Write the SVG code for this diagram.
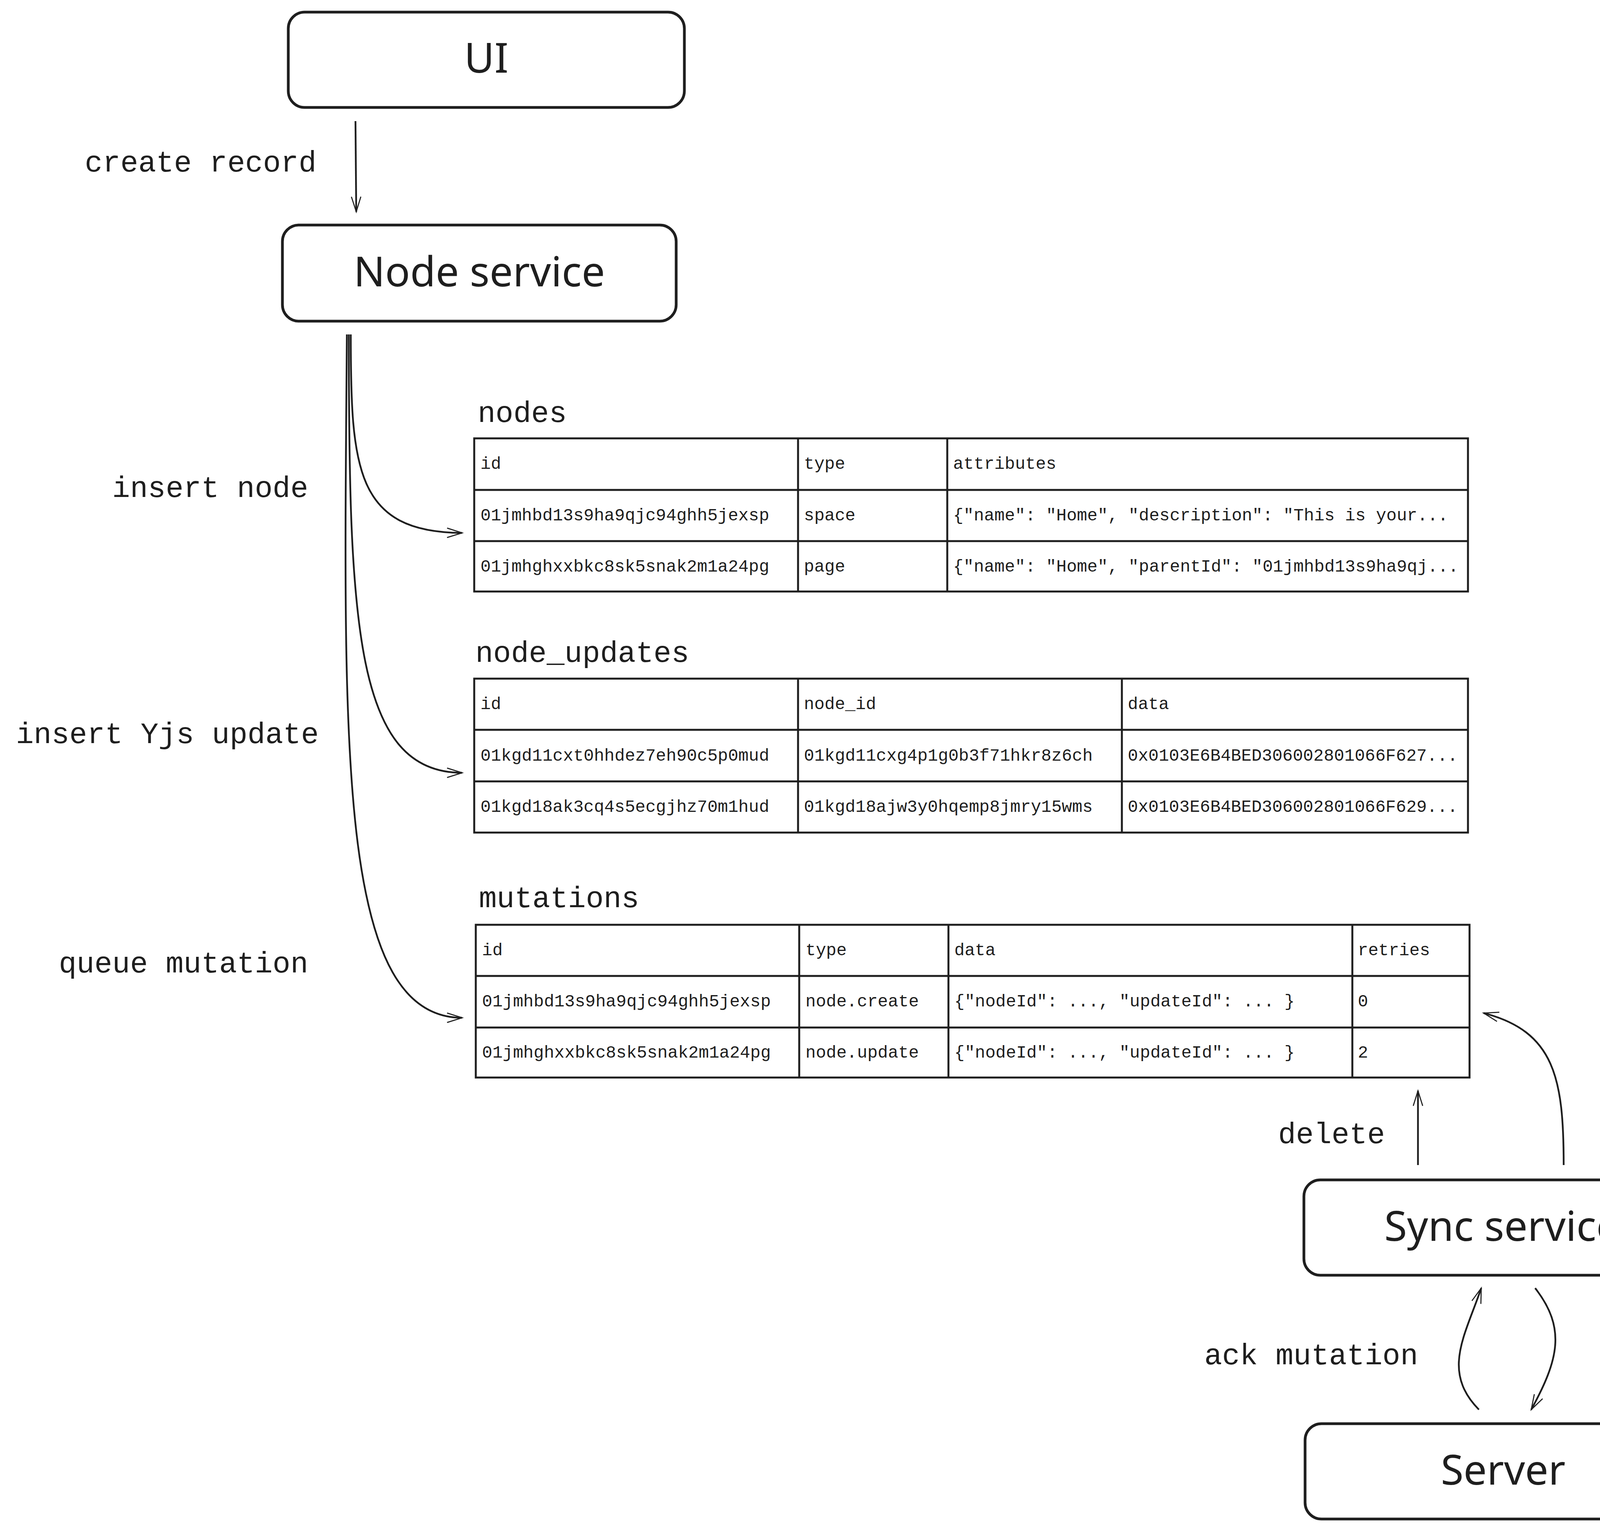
<svg xmlns="http://www.w3.org/2000/svg" width="4783" height="3911" viewBox="0 0 4783 3911" preserveAspectRatio="xMidYMid meet">
<style>
.box{fill:#fff;stroke:#1e1e1e;stroke-width:7}
.bt{font-family:"Noto Sans",sans-serif;font-size:106px;fill:#1e1e1e;text-anchor:middle}
.lbl{font-family:"Liberation Mono",monospace;font-size:76px;fill:#1e1e1e}
.ttl{font-family:"Liberation Mono",monospace;font-size:76px;fill:#1e1e1e}
.cell{font-family:"Liberation Mono",monospace;font-size:44px;fill:#1e1e1e}
.tbl{fill:none;stroke:#1e1e1e;stroke-width:5}
.con{fill:none;stroke:#1e1e1e;stroke-width:4.5;marker-end:url(#ah)}
</style>
<defs>
<marker id="ah" markerUnits="userSpaceOnUse" markerWidth="80" markerHeight="80" viewBox="-40 -40 80 80" refX="0" refY="0" orient="auto">
<path d="M-70 -22 L0 0 L-70 22" fill="none" stroke="#1e1e1e" stroke-width="5" transform="scale(0.55)"/>
</marker>
</defs>
<rect width="4783" height="3911" fill="#fff"/>
<g id="ui"><rect class="box" x="738" y="31" width="1014" height="244" rx="42"/><text class="bt" x="1245" y="186">UI</text></g>
<g id="node-service"><rect class="box" x="723" y="576" width="1008" height="246" rx="42"/><text class="bt" x="1227" y="733">Node service</text></g>
<g id="sync-service"><rect class="box" x="3338" y="3020" width="1014" height="244" rx="42"/><text class="bt" x="3845" y="3176">Sync service</text></g>
<g id="server"><rect class="box" x="3341" y="3644" width="1014" height="244" rx="42"/><text class="bt" x="3848" y="3800">Server</text></g>

<g id="nodes-table">
<text class="ttl" x="1223" y="1080">nodes</text>
<rect class="tbl" x="1214" y="1122" width="2544" height="392"/>
<path class="tbl" d="M1214 1254H3758M1214 1385H3758M2043 1122V1514M2425 1122V1514"/>
<text class="cell" x="1230" y="1200">id</text><text class="cell" x="2058" y="1200">type</text><text class="cell" x="2440" y="1200">attributes</text>
<text class="cell" x="1230" y="1332">01jmhbd13s9ha9qjc94ghh5jexsp</text><text class="cell" x="2058" y="1332">space</text><text class="cell" x="2440" y="1332">{"name": "Home", "description": "This is your...</text>
<text class="cell" x="1230" y="1463">01jmhghxxbkc8sk5snak2m1a24pg</text><text class="cell" x="2058" y="1463">page</text><text class="cell" x="2440" y="1463">{"name": "Home", "parentId": "01jmhbd13s9ha9qj...</text>
</g>

<g id="node-updates-table">
<text class="ttl" x="1217" y="1694">node_updates</text>
<rect class="tbl" x="1214" y="1737" width="2544" height="394"/>
<path class="tbl" d="M1214 1868H3758M1214 2000H3758M2043 1737V2131M2872 1737V2131"/>
<text class="cell" x="1230" y="1815">id</text><text class="cell" x="2058" y="1815">node_id</text><text class="cell" x="2887" y="1815">data</text>
<text class="cell" x="1230" y="1947">01kgd11cxt0hhdez7eh90c5p0mud</text><text class="cell" x="2058" y="1947">01kgd11cxg4p1g0b3f71hkr8z6ch</text><text class="cell" x="2887" y="1947">0x0103E6B4BED306002801066F627...</text>
<text class="cell" x="1230" y="2078">01kgd18ak3cq4s5ecgjhz70m1hud</text><text class="cell" x="2058" y="2078">01kgd18ajw3y0hqemp8jmry15wms</text><text class="cell" x="2887" y="2078">0x0103E6B4BED306002801066F629...</text>
</g>

<g id="mutations-table">
<text class="ttl" x="1226" y="2322">mutations</text>
<rect class="tbl" x="1218" y="2367" width="2544" height="391"/>
<path class="tbl" d="M1218 2498H3762M1218 2630H3762M2046 2367V2758M2428 2367V2758M3462 2367V2758"/>
<text class="cell" x="1234" y="2445">id</text><text class="cell" x="2062" y="2445">type</text><text class="cell" x="2443" y="2445">data</text><text class="cell" x="3476" y="2445">retries</text>
<text class="cell" x="1234" y="2576">01jmhbd13s9ha9qjc94ghh5jexsp</text><text class="cell" x="2062" y="2576">node.create</text><text class="cell" x="2443" y="2576">{"nodeId": ..., "updateId": ... }</text><text class="cell" x="3476" y="2576">0</text>
<text class="cell" x="1234" y="2707">01jmhghxxbkc8sk5snak2m1a24pg</text><text class="cell" x="2062" y="2707">node.update</text><text class="cell" x="2443" y="2707">{"nodeId": ..., "updateId": ... }</text><text class="cell" x="3476" y="2707">2</text>
</g>

<g id="connectors">
<path class="con" d="M910 310 L912 542"/>
<path class="con" d="M898 856 C898 1200 910 1362 1183 1364"/>
<path class="con" d="M893 856 C893 1600 910 1978 1183 1978"/>
<path class="con" d="M888 856 C880 1900 860 2605 1183 2605"/>
<path class="con" d="M3630 2982 L3630 2792"/>
<path class="con" d="M4003 2982 C4003 2760 3980 2640 3798 2593"/>
<path class="con" d="M3786 3608 C3690 3510 3750 3420 3792 3297"/>
<path class="con" d="M3930 3297 C4010 3400 3990 3480 3920 3608"/>
</g>

<g id="labels">
<text class="lbl" x="810" y="439" text-anchor="end">create record</text>
<text class="lbl" x="789" y="1272" text-anchor="end">insert node</text>
<text class="lbl" x="816" y="1902" text-anchor="end">insert Yjs update</text>
<text class="lbl" x="789" y="2489" text-anchor="end">queue mutation</text>
<text class="lbl" x="3272" y="2926">delete</text>
<text class="lbl" x="4089" y="2847">read mutations</text>
<text class="lbl" x="3083" y="3492">ack mutation</text>
<text class="lbl" x="4119" y="3477">sync mutations</text>
</g>
</svg>
